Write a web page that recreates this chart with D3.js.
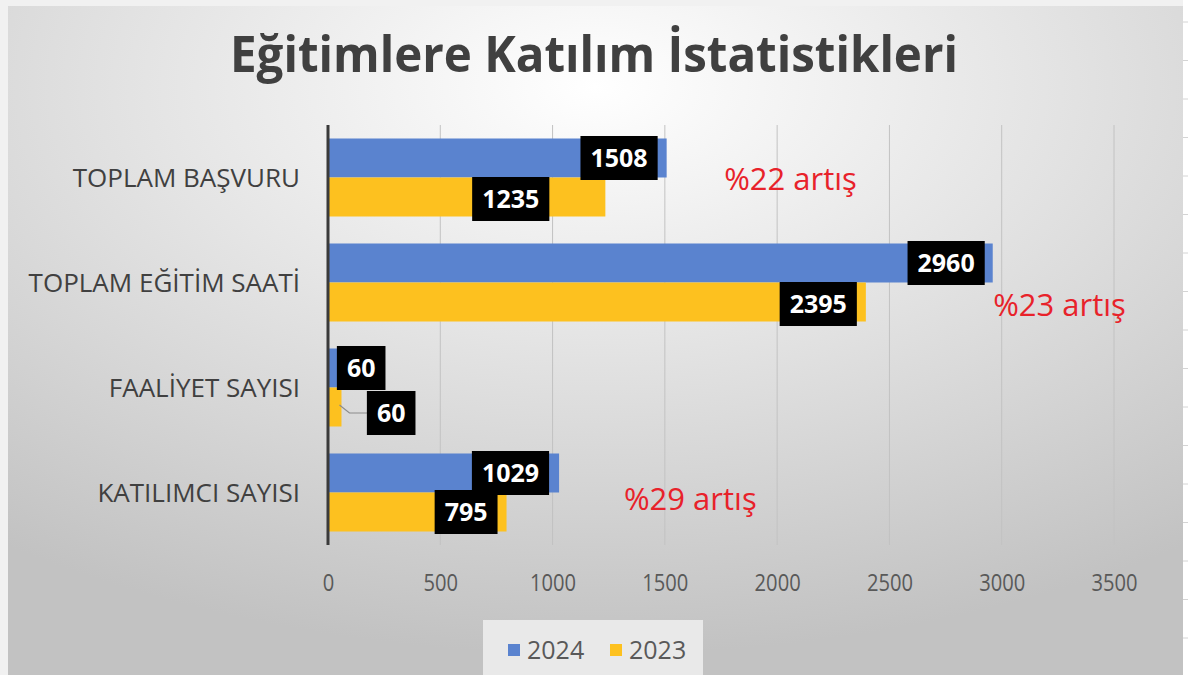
<!DOCTYPE html>
<html>
<head>
<meta charset="utf-8" />
<title>Eğitimlere Katılım İstatistikleri</title>
<script src="https://cdnjs.cloudflare.com/ajax/libs/d3/7.8.5/d3.min.js"></script>
<style>
  html, body { margin: 0; padding: 0; background: #f2f2f2; }
  svg { display: block; font-family: "Open Sans", sans-serif; }
</style>
</head>
<body>
<svg id="chart" width="1188" height="675"></svg>
<script>
// data
const categories = ["TOPLAM BAŞVURU", "TOPLAM EĞİTİM SAATİ", "FAALİYET SAYISI", "KATILIMCI SAYISI"]
const seriesNames = ["2024", "2023"]
const values2024 = [1508, 2960, 60, 1029]
const values2023 = [1235, 2395, 60, 795]
const xTicks = [0, 500, 1000, 1500, 2000, 2500, 3000, 3500]
const notes = ["%22 artış", "%23 artış", "", "%29 artış"]
const noteAt = [1764, 2962, 0, 1318]   // where the red note starts, in axis units

// label nudges (px) – box right edge relative to bar end, and vertical shift
const labelDx = { "2024": [-9, -8, 44, -10], "2023": [-56, -9, 74, -9] }
const labelDy = { "2024": [0, 0, 0, 0], "2023": [2, 2, 6, 0] }
const noteDy = [12, 33, 0, 17]

const colors = { "2024": "#5a83cf", "2023": "#fdc11f" }
const seriesValues = { "2024": values2024, "2023": values2023 }

const svg = d3.select("#chart")
const W = 1188, H = 675
const panel = { x: 8, y: 6, w: 1175, h: 669 }
const margin = { left: 328, right: 1114, top: 125, bottom: 545 }

// background
const defs = svg.append("defs")
const grad = defs.append("radialGradient").attr("id", "bg")
  .attr("cx", "50%").attr("cy", "12%").attr("r", "85%")
  .attr("fx", "50%").attr("fy", "12%")
grad.append("stop").attr("offset", "0%").attr("stop-color", "#ffffff")
grad.append("stop").attr("offset", "45%").attr("stop-color", "#e4e4e4")
grad.append("stop").attr("offset", "100%").attr("stop-color", "#c2c2c2")

svg.append("rect").attr("width", W).attr("height", H).attr("fill", "#f1f1f1")
svg.append("rect").attr("x", panel.x + panel.w).attr("y", 0).attr("width", W - panel.x - panel.w).attr("height", H).attr("fill", "#ffffff")
svg.append("g").selectAll("line").data(d3.range(22, H, 38.5)).enter().append("line")
  .attr("x1", panel.x + panel.w).attr("x2", W).attr("y1", d => d).attr("y2", d => d)
  .attr("stroke", "#d4d4d4").attr("stroke-width", 1)
svg.append("rect").attr("x", panel.x).attr("y", panel.y).attr("width", panel.w).attr("height", panel.h)
  .attr("fill", "url(#bg)")

// scales
const x = d3.scaleLinear().domain([0, 3500]).range([margin.left, margin.right])
const y = d3.scaleBand().domain(categories).range([margin.top, margin.bottom])
const ySub = d3.scaleBand().domain(seriesNames).range([0, y.bandwidth()]).paddingOuter(0.346)

// title
svg.append("text").attr("x", 594).attr("y", 72)
  .attr("text-anchor", "middle").attr("fill", "#404040")
  .style("font-size", "50px").style("font-weight", 700)
  .attr("textLength", 728).attr("lengthAdjust", "spacingAndGlyphs")
  .text("Eğitimlere Katılım İstatistikleri")

// gridlines
svg.append("g").selectAll("line").data(xTicks.slice(1)).enter().append("line")
  .attr("x1", d => x(d)).attr("x2", d => x(d))
  .attr("y1", margin.top).attr("y2", margin.bottom)
  .attr("stroke", "#c2c2c2").attr("stroke-width", 1)

// x axis labels
let xAxis = d3.axisBottom(x).tickValues(xTicks).tickFormat(d3.format("d")).tickSize(0).tickPadding(0)
const gx = svg.append("g").attr("transform", "translate(0," + margin.bottom + ")").call(xAxis)
gx.select(".domain").remove()
gx.selectAll("text").attr("y", 46).attr("dy", 0)
  .attr("fill", "#595959").style("font-size", "24px").style("font-family", "Open Sans")
  .attr("transform", "scale(0.84,1)")

// y axis
let yAxis = d3.axisLeft(y).tickSize(0).tickPadding(28)
const gy = svg.append("g").attr("transform", "translate(" + margin.left + ",0)").call(yAxis)
gy.select(".domain").remove()
gy.selectAll("text").attr("fill", "#404040").style("font-size", "26px").style("font-family", "Open Sans").attr("dy", "0.36em")

// bars
seriesNames.forEach(s => {
  svg.append("g").selectAll("rect").data(seriesValues[s]).enter().append("rect")
    .attr("x", x(0))
    .attr("y", (d, i) => y(categories[i]) + ySub(s))
    .attr("width", d => x(d) - x(0))
    .attr("height", ySub.bandwidth())
    .attr("fill", colors[s])
})

// axis line at zero
svg.append("line").attr("x1", x(0)).attr("x2", x(0))
  .attr("y1", margin.top).attr("y2", margin.bottom)
  .attr("stroke", "#3a3a3a").attr("stroke-width", 3)

// leader line for the small 2023 value
const li = 2
svg.append("polyline")
  .attr("points", [
    [x(values2023[li]) - 2, y(categories[li]) + ySub("2023") + ySub.bandwidth() / 2 - 2],
    [x(values2023[li]) + 8, y(categories[li]) + ySub("2023") + ySub.bandwidth() / 2 + 6],
    [x(values2023[li]) + labelDx["2023"][li] - 48, y(categories[li]) + ySub("2023") + ySub.bandwidth() / 2 + 6]
  ].map(p => p.join(",")).join(" "))
  .attr("fill", "none").attr("stroke", "#8c8c8c").attr("stroke-width", 1.2)

// data labels: draw 2023 first, 2024 on top
;["2023", "2024"].forEach(s => {
  seriesValues[s].forEach((v, i) => {
    const g = svg.append("g")
    const t = g.append("text").attr("fill", "#ffffff")
      .style("font-size", "25px").style("font-weight", 700)
      .attr("text-anchor", "middle").text(v)
    const w = t.node().getComputedTextLength() + 20
    const right = x(v) + labelDx[s][i]
    const cy = y(categories[i]) + ySub(s) + ySub.bandwidth() / 2 + labelDy[s][i]
    g.insert("rect", "text").attr("x", right - w).attr("y", cy - 22)
      .attr("width", w).attr("height", 44).attr("fill", "#000000")
    t.attr("x", right - w / 2).attr("y", cy + 9)
  })
})

// red notes
svg.append("g").selectAll("text").data(notes).enter().append("text")
  .filter(d => d !== "")
  .attr("x", (d, i) => x(noteAt[notes.indexOf(d)]))
  .attr("y", (d) => { const i = notes.indexOf(d); return y(categories[i]) + y.bandwidth() / 2 + noteDy[i] })
  .attr("fill", "#e8222a").style("font-size", "31px")
  .text(d => d)

// legend
const lg = svg.append("g").attr("transform", "translate(483,620)")
lg.append("rect").attr("width", 220).attr("height", 55).attr("fill", "#e9e9e9")
seriesNames.forEach((s, i) => {
  const ox = 25 + i * 102
  lg.append("rect").attr("x", ox).attr("y", 24).attr("width", 12).attr("height", 12).attr("fill", colors[s])
  lg.append("text").attr("x", ox + 19).attr("y", 39).attr("fill", "#595959")
    .style("font-size", "25px").text(s)
})
</script>
</body>
</html>
